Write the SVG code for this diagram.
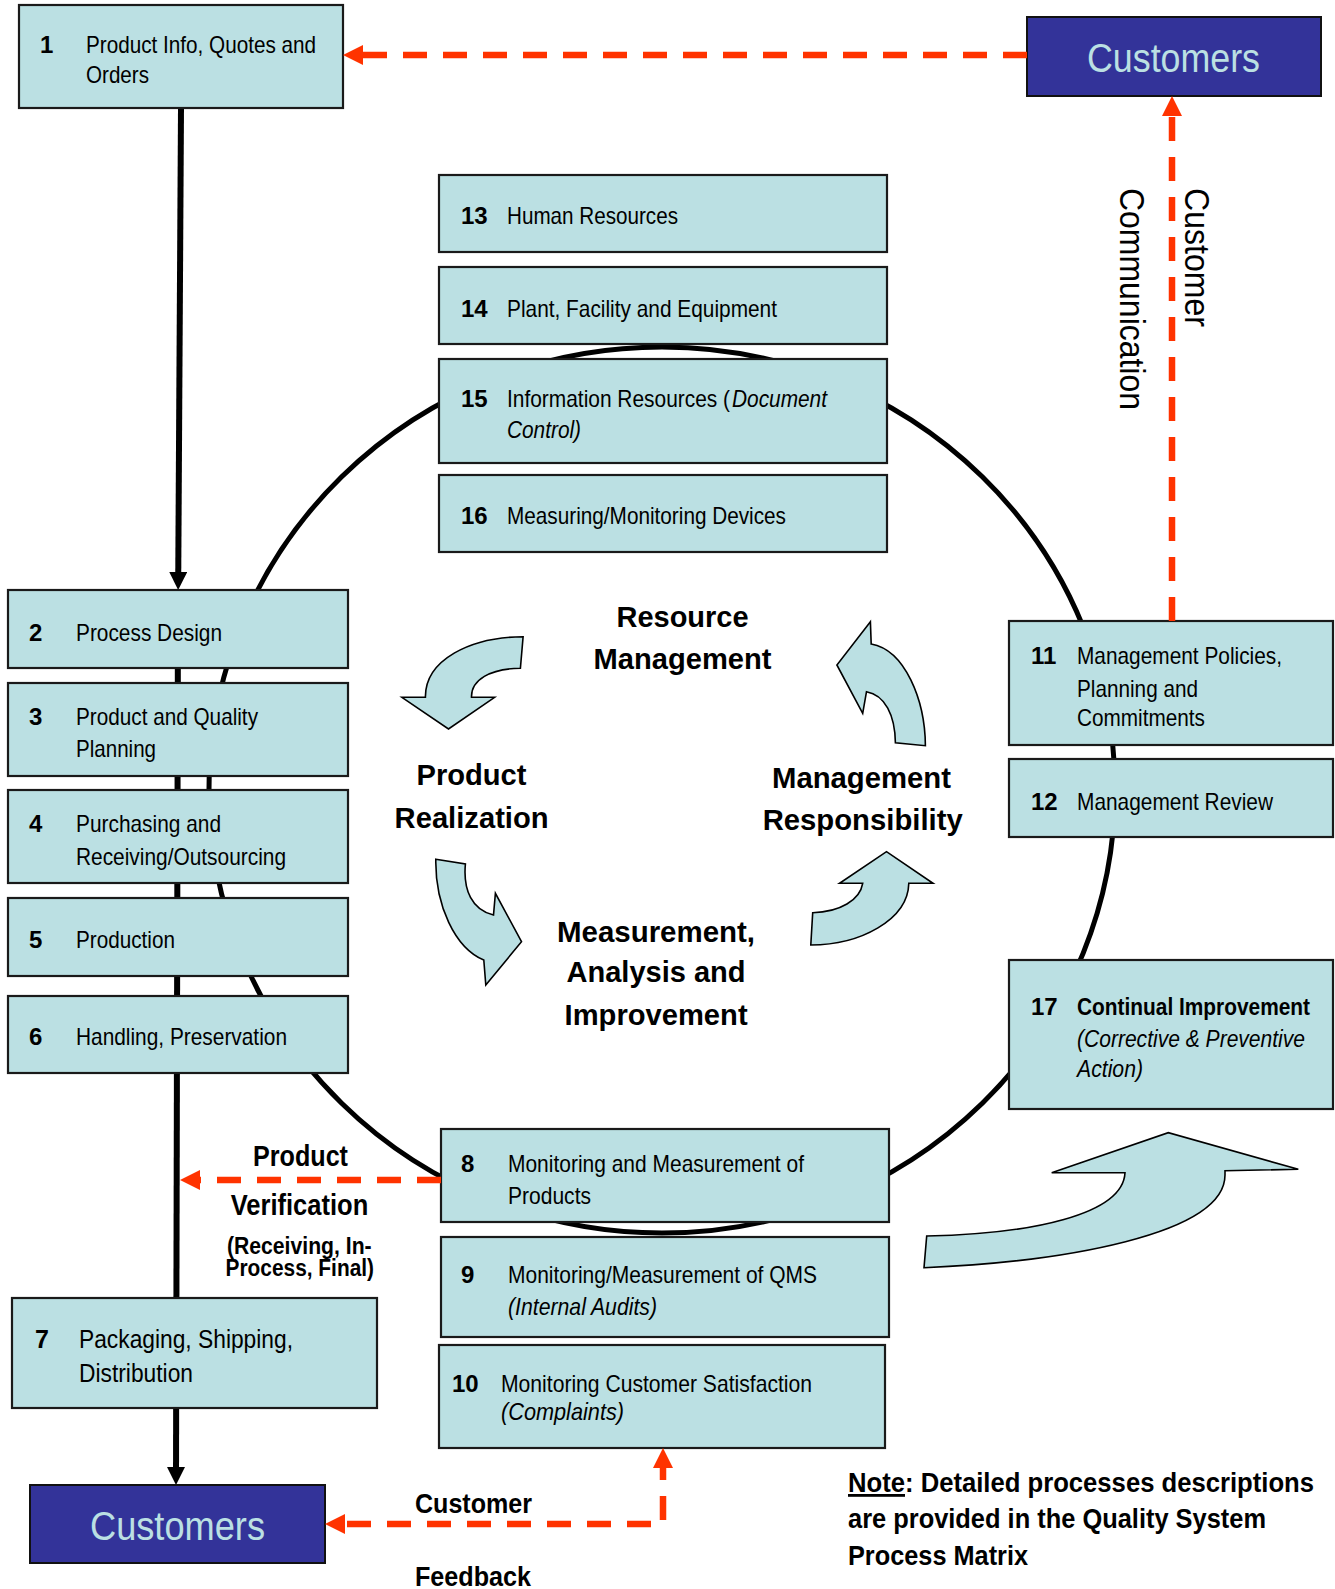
<svg xmlns="http://www.w3.org/2000/svg" width="1335" height="1589" viewBox="0 0 1335 1589">
<style>
.box{fill:#BBE0E3;stroke:#1a1a1a;stroke-width:2.2}
.cust{fill:#333399;stroke:#111;stroke-width:2}
text{font-family:"Liberation Sans",Arial,sans-serif;fill:#000}
.t{font-size:24px}
.n{font-size:24px;font-weight:bold}
.i{font-style:italic}
.b{font-weight:bold}
.lbl{font-size:29px;font-weight:bold}
.ct{font-size:40px;fill:#BBE0E3}
.vt{font-size:35px}
.dash{stroke:#FF3300;stroke-width:6.5;stroke-dasharray:24 16;fill:none}
.blk{stroke:#000;stroke-width:6;fill:none}
.cv{fill:#BBE0E3;stroke:#000;stroke-width:1.6}
</style>
<defs>
<marker id="oh" viewBox="0 0 20 20" refX="12" refY="10" markerWidth="20" markerHeight="20" markerUnits="userSpaceOnUse" orient="auto-start-reverse"><path d="M0,0 L20,10 L0,20 z" fill="#FF3300"/></marker>
<marker id="bh" viewBox="0 0 18 18" refX="10" refY="9" markerWidth="18" markerHeight="18" markerUnits="userSpaceOnUse" orient="auto"><path d="M0,0 L18,9 L0,18 z" fill="#000"/></marker>
</defs>
<rect width="1335" height="1589" fill="#fff"/>

<g id="cycle">
<ellipse cx="662" cy="790" rx="453" ry="443" fill="none" stroke="#000" stroke-width="5"/>
</g>

<g id="connectors-back">
<path class="blk" d="M181,108 L178.2,582" marker-end="url(#bh)"/>
<path class="blk" d="M178,590 L176,1477" marker-end="url(#bh)"/>
</g>

<g id="node1"><rect class="box" x="19" y="5" width="324" height="103"/>
<text class="n" x="40" y="53">1</text>
<text class="t" x="86" y="53" textLength="230" lengthAdjust="spacingAndGlyphs">Product Info, Quotes and</text>
<text class="t" x="86" y="83" textLength="63" lengthAdjust="spacingAndGlyphs">Orders</text></g>

<g id="node2"><rect class="box" x="8" y="590" width="340" height="78"/>
<text class="n" x="29" y="641">2</text>
<text class="t" x="76" y="641" textLength="146" lengthAdjust="spacingAndGlyphs">Process Design</text></g>

<g id="node3"><rect class="box" x="8" y="683" width="340" height="93"/>
<text class="n" x="29" y="725">3</text>
<text class="t" x="76" y="725" textLength="182" lengthAdjust="spacingAndGlyphs">Product and Quality</text>
<text class="t" x="76" y="757" textLength="80" lengthAdjust="spacingAndGlyphs">Planning</text></g>

<g id="node4"><rect class="box" x="8" y="790" width="340" height="93"/>
<text class="n" x="29" y="832">4</text>
<text class="t" x="76" y="832" textLength="145" lengthAdjust="spacingAndGlyphs">Purchasing and</text>
<text class="t" x="76" y="865" textLength="210" lengthAdjust="spacingAndGlyphs">Receiving/Outsourcing</text></g>

<g id="node5"><rect class="box" x="8" y="898" width="340" height="78"/>
<text class="n" x="29" y="948">5</text>
<text class="t" x="76" y="948" textLength="99" lengthAdjust="spacingAndGlyphs">Production</text></g>

<g id="node6"><rect class="box" x="8" y="996" width="340" height="77"/>
<text class="n" x="29" y="1045">6</text>
<text class="t" x="76" y="1045" textLength="211" lengthAdjust="spacingAndGlyphs">Handling, Preservation</text></g>

<g id="node7"><rect class="box" x="12" y="1298" width="365" height="110"/>
<text class="n" x="35" y="1348" style="font-size:25px">7</text>
<text class="t" x="79" y="1348" style="font-size:25px" textLength="214" lengthAdjust="spacingAndGlyphs">Packaging, Shipping,</text>
<text class="t" x="79" y="1382" style="font-size:25px" textLength="114" lengthAdjust="spacingAndGlyphs">Distribution</text></g>

<g id="node8"><rect class="box" x="441" y="1129" width="448" height="93"/>
<text class="n" x="461" y="1172">8</text>
<text class="t" x="508" y="1172" textLength="296" lengthAdjust="spacingAndGlyphs">Monitoring and Measurement of</text>
<text class="t" x="508" y="1204" textLength="83" lengthAdjust="spacingAndGlyphs">Products</text></g>

<g id="node9"><rect class="box" x="441" y="1237" width="448" height="100"/>
<text class="n" x="461" y="1283">9</text>
<text class="t" x="508" y="1283" textLength="309" lengthAdjust="spacingAndGlyphs">Monitoring/Measurement of QMS</text>
<text class="t i" x="508" y="1315" textLength="149" lengthAdjust="spacingAndGlyphs">(Internal Audits)</text></g>

<g id="node10"><rect class="box" x="439" y="1345" width="446" height="103"/>
<text class="n" x="452" y="1392">10</text>
<text class="t" x="501" y="1392" textLength="311" lengthAdjust="spacingAndGlyphs">Monitoring Customer Satisfaction</text>
<text class="t i" x="501" y="1420" textLength="123" lengthAdjust="spacingAndGlyphs">(Complaints)</text></g>

<g id="node11"><rect class="box" x="1009" y="621" width="324" height="124"/>
<text class="n" x="1031" y="664">11</text>
<text class="t" x="1077" y="664" textLength="205" lengthAdjust="spacingAndGlyphs">Management Policies,</text>
<text class="t" x="1077" y="697" textLength="121" lengthAdjust="spacingAndGlyphs">Planning and</text>
<text class="t" x="1077" y="726" textLength="128" lengthAdjust="spacingAndGlyphs">Commitments</text></g>

<g id="node12"><rect class="box" x="1009" y="759" width="324" height="78"/>
<text class="n" x="1031" y="810">12</text>
<text class="t" x="1077" y="810" textLength="196" lengthAdjust="spacingAndGlyphs">Management Review</text></g>

<g id="node13"><rect class="box" x="439" y="175" width="448" height="77"/>
<text class="n" x="461" y="224">13</text>
<text class="t" x="507" y="224" textLength="171" lengthAdjust="spacingAndGlyphs">Human Resources</text></g>

<g id="node14"><rect class="box" x="439" y="267" width="448" height="77"/>
<text class="n" x="461" y="317">14</text>
<text class="t" x="507" y="317" textLength="270" lengthAdjust="spacingAndGlyphs">Plant, Facility and Equipment</text></g>

<g id="node15"><rect class="box" x="439" y="359" width="448" height="104"/>
<text class="n" x="461" y="407">15</text>
<text class="t" x="507" y="407" textLength="223" lengthAdjust="spacingAndGlyphs">Information Resources (</text>
<text class="t i" x="732" y="407" textLength="95" lengthAdjust="spacingAndGlyphs">Document</text>
<text class="t i" x="507" y="438" textLength="74" lengthAdjust="spacingAndGlyphs">Control)</text></g>

<g id="node16"><rect class="box" x="439" y="475" width="448" height="77"/>
<text class="n" x="461" y="524">16</text>
<text class="t" x="507" y="524" textLength="279" lengthAdjust="spacingAndGlyphs">Measuring/Monitoring Devices</text></g>

<g id="node17"><rect class="box" x="1009" y="960" width="324" height="149"/>
<text class="n" x="1031" y="1015">17</text>
<text class="t b" x="1077" y="1015" textLength="233" lengthAdjust="spacingAndGlyphs">Continual Improvement</text>
<text class="t i" x="1077" y="1047" textLength="228" lengthAdjust="spacingAndGlyphs">(Corrective &amp; Preventive</text>
<text class="t i" x="1077" y="1077" textLength="66" lengthAdjust="spacingAndGlyphs">Action)</text></g>

<g id="customers-top"><rect class="cust" x="1027" y="17" width="294" height="79"/>
<text class="ct" x="1087" y="72" textLength="173" lengthAdjust="spacingAndGlyphs">Customers</text></g>

<g id="customers-bottom"><rect class="cust" x="30" y="1485" width="295" height="78"/>
<text class="ct" x="90" y="1540" textLength="175" lengthAdjust="spacingAndGlyphs">Customers</text></g>

<g id="connectors">
<path class="dash" d="M1027,55 H351" marker-end="url(#oh)"/>
<path class="dash" d="M1172,621 V104" marker-end="url(#oh)"/>
<path class="dash" d="M441,1180 H188" marker-end="url(#oh)"/>
<path class="dash" d="M663,1456 V1524 H333" marker-start="url(#oh)" marker-end="url(#oh)"/>
</g>

<g id="cycle-arrows">
<path class="cv" d="M523.1,636.7 C470,637 425,660 425.4,697.3 L401.9,697.3 L448.5,729 L494.6,697.3 L471.5,697.3 C471,680 490,668.5 520.4,668.3 Z"/>
<path class="cv" d="M435.8,859.3 L465.4,864 C463,890 472,910 493.5,915 L495.4,893.3 L521.5,941.7 L485.8,985 L483.8,960 C455,948 435,905 435.8,859.3 Z"/>
<path class="cv" d="M812.7,912.7 L810.8,945 C860,945 908,920 908.8,883.3 L933,883.3 L886.5,851.7 L839.6,883.3 L862.7,883.3 C860,900 840,912 812.7,912.7 Z"/>
<path class="cv" d="M870.4,621.7 L871.2,644 C905,650 925,700 925.4,745.7 L895.4,742.7 C895,715 885,695 866.5,691.7 L862.7,713.3 L836.9,665 Z"/>
<path class="cv" d="M926.7,1236 L924,1267.7 C1060,1262 1225,1235 1225,1175 L1225,1170.7 L1298.3,1169.3 L1168.3,1132.7 L1051.7,1172.7 L1125,1172.7 C1123,1215 1030,1234 926.7,1236 Z"/>
</g>

<g id="labels">
<text class="lbl" x="616.5" y="627" textLength="132" lengthAdjust="spacingAndGlyphs">Resource</text>
<text class="lbl" x="593.5" y="669" textLength="178" lengthAdjust="spacingAndGlyphs">Management</text>
<text class="lbl" x="416.5" y="785" textLength="110" lengthAdjust="spacingAndGlyphs">Product</text>
<text class="lbl" x="394.6" y="828" textLength="154" lengthAdjust="spacingAndGlyphs">Realization</text>
<text class="lbl" x="772" y="788" textLength="179" lengthAdjust="spacingAndGlyphs">Management</text>
<text class="lbl" x="762.7" y="830" textLength="200" lengthAdjust="spacingAndGlyphs">Responsibility</text>
<text class="lbl" x="557" y="942" textLength="198" lengthAdjust="spacingAndGlyphs">Measurement,</text>
<text class="lbl" x="566.5" y="982" textLength="179" lengthAdjust="spacingAndGlyphs">Analysis and</text>
<text class="lbl" x="564.6" y="1025" textLength="183" lengthAdjust="spacingAndGlyphs">Improvement</text>

<text class="lbl" x="253" y="1166" textLength="95" lengthAdjust="spacingAndGlyphs">Product</text>
<text class="lbl" x="230.7" y="1215" textLength="137.6" lengthAdjust="spacingAndGlyphs">Verification</text>
<text class="b" style="font-size:24px" x="227" y="1254" textLength="144.6" lengthAdjust="spacingAndGlyphs">(Receiving, In-</text>
<text class="b" style="font-size:24px" x="225.5" y="1276" textLength="148.5" lengthAdjust="spacingAndGlyphs">Process, Final)</text>

<text class="vt" transform="translate(1185,188) rotate(90)" textLength="139" lengthAdjust="spacingAndGlyphs">Customer</text>
<text class="vt" transform="translate(1120,188) rotate(90)" textLength="222" lengthAdjust="spacingAndGlyphs">Communication</text>

<text class="lbl" style="font-size:28px" x="415" y="1513" textLength="117" lengthAdjust="spacingAndGlyphs">Customer</text>
<text class="lbl" style="font-size:28px" x="415" y="1586" textLength="116" lengthAdjust="spacingAndGlyphs">Feedback</text>

<text class="lbl" style="font-size:28px" x="848" y="1492" textLength="466" lengthAdjust="spacingAndGlyphs"><tspan text-decoration="underline">Note</tspan>:  Detailed processes descriptions</text>
<text class="lbl" style="font-size:28px" x="848" y="1528" textLength="418" lengthAdjust="spacingAndGlyphs">are provided in the Quality System</text>
<text class="lbl" style="font-size:28px" x="848" y="1565" textLength="180" lengthAdjust="spacingAndGlyphs">Process Matrix</text>
</g>
</svg>
